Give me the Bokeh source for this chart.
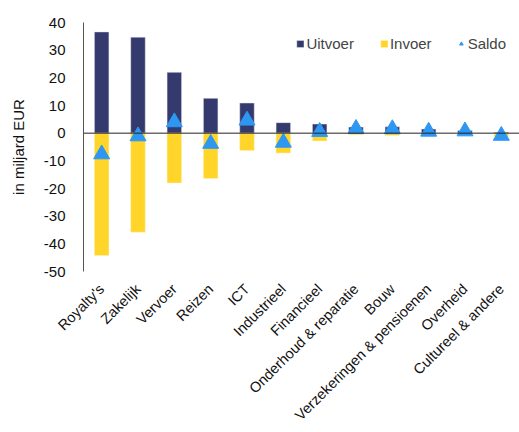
import math
from bokeh.plotting import figure
from bokeh.models import Range1d, Span, FixedTicker, Legend, LegendItem, ColumnDataSource
from bokeh.embed import file_html
from bokeh.resources import INLINE

categories = ["Royalty's", "Zakelijk", "Vervoer", "Reizen", "ICT", "Industrieel", "Financieel",
              "Onderhoud & reparatie", "Bouw", "Verzekeringen & pensioenen", "Overheid",
              "Cultureel & andere"]
uitvoer = [36.6, 34.7, 22.0, 12.6, 10.9, 3.8, 3.3, 2.2, 2.3, 1.5, 1.0, 0.3]
invoer = [-44.2, -35.8, -18.0, -16.4, -6.3, -7.2, -2.8, -0.6, -0.8, -0.9, -0.3, -1.2]
saldo = [-7.6, -1.1, 4.0, -3.8, 4.6, -3.4, 0.5, 1.6, 1.5, 0.6, 0.7, -0.9]
y_ticks = [-50, -40, -30, -20, -10, 0, 10, 20, 30, 40]
y_tick_labels = ["-50", "-40", "-30", "-20", "-10", "0", "10", "20", "30", "40"]

src = ColumnDataSource(dict(cat=categories, uit=uitvoer, inv=invoer, sal=saldo))

FONT = "Liberation Sans"
p = figure(x_range=categories, y_range=Range1d(-50, 40), width=519, height=432,
           output_backend="svg", toolbar_location=None,
           min_border_left=83, min_border_right=0, min_border_top=22, min_border_bottom=161)
p.outline_line_color = None
p.xgrid.grid_line_color = None
p.ygrid.grid_line_color = None
p.x_range.range_padding = 0

r_uit = p.vbar(x="cat", top="uit", bottom=0, width=0.4, source=src,
               fill_color="#343A6E", line_color="#E8E8F0", line_width=0.5)
r_inv = p.vbar(x="cat", top=0, bottom="inv", width=0.4, source=src,
               fill_color="#FFD52A", line_color="#FFF3C0", line_width=0.5)
p.add_layout(Span(location=0, dimension="width", line_color="#222222", line_width=1))
r_sal = p.scatter(x="cat", y="sal", source=src, marker="triangle", size=16,
                  fill_color="#2E97F2", line_color="#2E97F2")

p.yaxis.ticker = FixedTicker(ticks=y_ticks)
p.yaxis.major_label_overrides = {t: s for t, s in zip(y_ticks, y_tick_labels)}
p.yaxis.axis_label = "in miljard EUR"
p.yaxis.axis_label_text_font = FONT
p.yaxis.axis_label_text_font_style = "normal"
p.yaxis.axis_label_text_font_size = "15px"
p.yaxis.axis_label_text_color = "#111111"
p.yaxis.axis_label_standoff = 14
p.yaxis.major_label_text_font = FONT
p.yaxis.major_label_text_font_size = "15px"
p.yaxis.major_label_text_color = "#111111"
p.yaxis.major_tick_line_color = None
p.yaxis.minor_tick_line_color = None
p.yaxis.axis_line_color = "#555555"
p.yaxis.major_label_standoff = 12

p.xaxis.axis_line_color = None
p.xaxis.major_tick_line_color = None
p.xaxis.major_label_orientation = math.pi / 4
p.xaxis.major_label_text_font = FONT
p.xaxis.major_label_text_font_size = "14.5px"
p.xaxis.major_label_text_color = "#111111"
p.xaxis.major_label_standoff = 9

legend = Legend(items=[LegendItem(label="Uitvoer", renderers=[r_uit]),
                       LegendItem(label="Invoer", renderers=[r_inv]),
                       LegendItem(label="Saldo", renderers=[r_sal])],
                orientation="horizontal", location="top_right")
legend.border_line_color = None
legend.background_fill_alpha = 0
legend.label_text_font = FONT
legend.label_text_font_size = "15px"
legend.glyph_width = 9
legend.glyph_height = 9
legend.spacing = 25
legend.label_standoff = 2
legend.padding = 6
legend.margin = 13
p.add_layout(legend)

open("out.html", "w").write(file_html(p, INLINE))
